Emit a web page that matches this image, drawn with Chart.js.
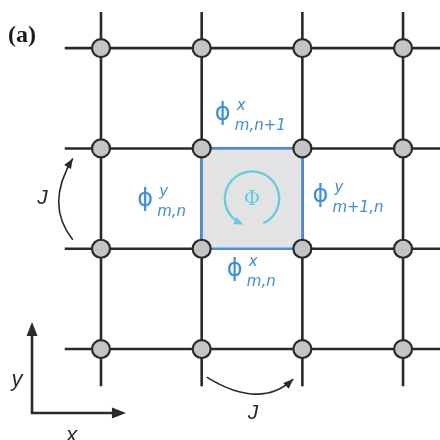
<!DOCTYPE html>
<html>
<head>
<meta charset="utf-8">
<script src="https://cdn.jsdelivr.net/npm/chart.js@4.4.1/dist/chart.umd.min.js"></script>
<style>
  html, body { margin: 0; padding: 0; background: #fff; }
</style>
</head>
<body>
<canvas id="chart" width="440" height="440"></canvas>
<script>
// lattice sites (m, n)
const SITE_M = [0, 1, 2, 3]
const SITE_N = [0, 1, 2, 3]

// bonds run a bit past the outer sites
const BOND_X_FROM = -0.36
const BOND_X_TO = 3.37
const BOND_Y_FROM = -0.37
const BOND_Y_TO = 3.36

// the plaquette carrying the flux
const PLAQ_M = [1, 2, 2, 1, 1]
const PLAQ_N = [1, 1, 2, 2, 1]

// phase labels on the plaquette edges
const PHASE_SUP = ['x', 'y', 'y', 'x']
const PHASE_SUB = ['m,n+1', 'm,n', 'm+1,n', 'm,n']
const PHASE_M = [1.14, 0.37, 2.11, 1.26]
const PHASE_N = [2.29, 1.44, 1.48, 0.74]

// hopping arrows (start, control, end)
const HOP_M = [[-0.28, -0.56, -0.28], [1.05, 1.58, 1.91]]
const HOP_N = [[1.09, 1.44, 1.90], [-0.28, -0.61, -0.30]]

// x / y direction arrows
const AXIS_ORIGIN = [-0.685, -0.638]
const AXIS_TIP_X = 0.248
const AXIS_TIP_Y = 0.269

// text labels
const TEXT_LABELS = [
  { text: '(a)', m: -0.924, n: 3.12, font: 'bold 24px "Liberation Serif"', align: 'left' },
  { text: 'J', m: -0.58, n: 1.50, font: 'italic 21px "Liberation Sans"', align: 'center' },
  { text: 'J', m: 1.51, n: -0.64, font: 'italic 21px "Liberation Sans"', align: 'center' },
  { text: 'y', m: -0.835, n: -0.31, font: 'italic 22px "Liberation Sans"', align: 'center' },
  { text: 'x', m: -0.29, n: -0.87, font: 'italic 22px "Liberation Sans"', align: 'center' }
]

const INK = '#2a2a2a'
const BLUE = '#3d8de0'
const CYAN = '#62cde2'

const datasets = []

// sites on top
const sites = []
SITE_N.forEach(n => SITE_M.forEach(m => sites.push({ x: m, y: n })))
datasets.push({
  data: sites,
  order: 0,
  pointRadius: 9,
  pointBackgroundColor: '#c4c4c4',
  pointBorderColor: INK,
  pointBorderWidth: 2.2,
  showLine: false
})

// flux plaquette
datasets.push({
  data: PLAQ_M.map((m, i) => ({ x: m, y: PLAQ_N[i] })),
  order: 1,
  showLine: true,
  fill: 'shape',
  backgroundColor: '#e3e3e3',
  borderColor: '#4b8fdf',
  borderWidth: 2.5,
  pointRadius: 0
})

// bonds
SITE_N.forEach(n => {
  datasets.push({
    data: [{ x: BOND_X_FROM, y: n }, { x: BOND_X_TO, y: n }],
    order: 2, showLine: true, borderColor: INK, borderWidth: 2.6, pointRadius: 0
  })
})
SITE_M.forEach(m => {
  datasets.push({
    data: [{ x: m, y: BOND_Y_FROM }, { x: m, y: BOND_Y_TO }],
    order: 2, showLine: true, borderColor: INK, borderWidth: 2.6, pointRadius: 0
  })
})

function arrowHead(ctx, x, y, dx, dy, len, wid) {
  const d = Math.hypot(dx, dy)
  const ux = dx / d, uy = dy / d
  ctx.beginPath()
  ctx.moveTo(x, y)
  ctx.lineTo(x - ux * len - uy * wid / 2, y - uy * len + ux * wid / 2)
  ctx.lineTo(x - ux * len + uy * wid / 2, y - uy * len - ux * wid / 2)
  ctx.closePath()
  ctx.fill()
}

const decorations = {
  id: 'decorations',
  afterDatasetsDraw(chart) {
    const ctx = chart.ctx
    const sx = chart.scales.x, sy = chart.scales.y
    const P = (m, n) => [sx.getPixelForValue(m), sy.getPixelForValue(n)]
    ctx.save()

    // flux circle with arrow
    const [cx, cy] = P(1.5, 1.5)
    const r = sx.getPixelForValue(0.27) - sx.getPixelForValue(0)
    const a0 = 65 * Math.PI / 180, a1 = 116 * Math.PI / 180
    ctx.strokeStyle = CYAN
    ctx.fillStyle = CYAN
    ctx.lineWidth = 2.3
    ctx.beginPath()
    ctx.arc(cx, cy, r, a0, a1, true)
    ctx.stroke()
    arrowHead(ctx, cx + r * Math.cos(a1) + 3, cy + r * Math.sin(a1) + 1.5,
      Math.sin(a1), -Math.cos(a1), 9, 8)
    ctx.font = '20px "DejaVu Serif"'
    ctx.textAlign = 'center'
    ctx.textBaseline = 'middle'
    ctx.fillText('\u03A6', cx, cy + 1)

    // phase labels
    ctx.fillStyle = BLUE
    ctx.textAlign = 'left'
    ctx.textBaseline = 'alphabetic'
    PHASE_SUP.forEach((sup, i) => {
      const [x, y] = P(PHASE_M[i], PHASE_N[i])
      ctx.font = '24px "DejaVu Sans"'
      ctx.fillText('\u03D5', x - 1, y + 1)
      ctx.font = 'italic 15px "DejaVu Sans"'
      ctx.fillText(sup, x + 21, y - 9)
      ctx.fillText(PHASE_SUB[i], x + 19, y + 11)
    })

    // hopping arrows
    ctx.strokeStyle = INK
    ctx.fillStyle = INK
    ctx.lineWidth = 1.6
    HOP_M.forEach((ms, i) => {
      const ns = HOP_N[i]
      const p0 = P(ms[0], ns[0]), c = P(ms[1], ns[1]), p1 = P(ms[2], ns[2])
      ctx.beginPath()
      ctx.moveTo(p0[0], p0[1])
      ctx.quadraticCurveTo(c[0], c[1], p1[0], p1[1])
      ctx.stroke()
      arrowHead(ctx, p1[0], p1[1], p1[0] - c[0], p1[1] - c[1], 10, 8)
    })

    // x / y arrows
    const o = P(AXIS_ORIGIN[0], AXIS_ORIGIN[1])
    const tx = P(AXIS_TIP_X, AXIS_ORIGIN[1])
    const ty = P(AXIS_ORIGIN[0], AXIS_TIP_Y)
    ctx.lineWidth = 2.6
    ctx.beginPath()
    ctx.moveTo(ty[0], ty[1] + 8)
    ctx.lineTo(o[0], o[1])
    ctx.lineTo(tx[0] - 8, tx[1])
    ctx.stroke()
    arrowHead(ctx, ty[0], ty[1], 0, -1, 14, 11)
    arrowHead(ctx, tx[0], tx[1], 1, 0, 14, 11)

    // text
    ctx.textBaseline = 'middle'
    TEXT_LABELS.forEach(t => {
      const [x, y] = P(t.m, t.n)
      ctx.font = t.font
      ctx.textAlign = t.align
      ctx.fillStyle = t.text === '(a)' ? '#1a1a1a' : INK
      ctx.fillText(t.text, x, y)
    })
    ctx.restore()
  }
}

new Chart(document.getElementById('chart'), {
  type: 'scatter',
  data: { datasets },
  options: {
    responsive: false,
    animation: false,
    layout: { padding: 0, autoPadding: false },
    plugins: { legend: { display: false }, tooltip: { enabled: false } },
    scales: {
      x: { type: 'linear', display: false, min: -1.003, max: 3.367 },
      y: { type: 'linear', display: false, min: -0.907, max: 3.48 }
    }
  },
  plugins: [decorations]
})
</script>
</body>
</html>
